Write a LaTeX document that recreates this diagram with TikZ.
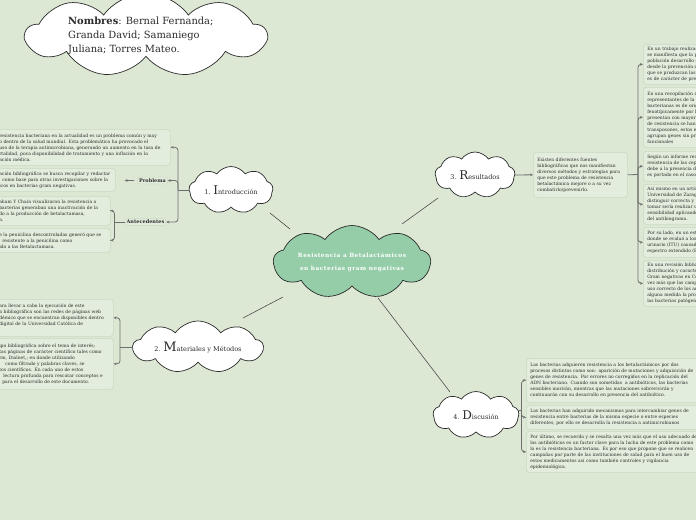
\documentclass[tikz,border=0pt]{standalone}
\usepackage{fontspec}
\setmainfont{DejaVu Serif}
\usetikzlibrary{shapes.symbols,arrows.meta,calc}
\definecolor{bg}{HTML}{DCE7D4}
\definecolor{boxfill}{HTML}{E3EDDD}
\definecolor{boxline}{HTML}{C9DAC1}
\definecolor{ink}{HTML}{2B2B2B}
\definecolor{connc}{HTML}{6E6E6E}
\definecolor{central}{HTML}{95CDA9}
\newcommand{\tsz}{\fontsize{4.5}{6}\selectfont}
\begin{document}
\begin{tikzpicture}[x=1pt,y=-1pt,
  tbox/.style={draw=boxline, fill=boxfill, rounded corners=3pt, line width=0.6pt, anchor=north west, inner xsep=4pt, inner ysep=0pt, align=left, font=\tsz, text=ink},
  lbl/.style={draw=boxline, fill=boxfill, rounded corners=2pt, line width=0.6pt, inner sep=1.5pt, font=\fontsize{5}{6}\selectfont\bfseries, text=ink},
  cl/.style={cloud, cloud puffs=9, cloud puff arc=110, cloud ignores aspect, draw=ink, line width=0.7pt, fill=white, inner sep=0pt, text=ink, font=\fontsize{6.5}{7}\selectfont},
  link/.style={draw=connc!70!black, line width=0.6pt},
  brk/.style={draw=connc, line width=0.8pt, rounded corners=3pt},
  tip/.style={-{Stealth[length=3pt,width=2.6pt]}}
]
\fill[bg] (0,0) rectangle (696,520);
\useasboundingbox (0,0) rectangle (696,520);
\clip (0,0) rectangle (696,520);

% clouds
\node[cl, minimum width=240pt, minimum height=84pt] (names) at (146,35) {};
\node[anchor=north west, align=left, inner sep=0pt, font=\fontsize{9.9}{14}\selectfont, text=ink] (namestxt) at (68,17)
  {\textbf{Nombres}: Bernal Fernanda;\\Granda David; Samaniego\\Juliana; Torres Mateo.};

\node[cl, fill=central, minimum width=157pt, minimum height=73pt, font=\fontsize{5.8}{13}\selectfont\bfseries\addfontfeature{LetterSpace=9}, text=white, align=center] (cen) at (352,262)
  {Resistencia a Betalactámicos\\en bacterias gram negativas};

\node[cl, minimum width=84pt, minimum height=47pt] (intro) at (231,190) {1. {\fontsize{12}{12}\selectfont I}ntroducción};
\node[cl, minimum width=130pt, minimum height=52pt] (mat) at (198,347) {2. {\fontsize{13}{13}\selectfont M}ateriales y Métodos};
\node[cl, minimum width=80pt, minimum height=46pt] (res) at (475,175) {3. {\fontsize{12}{12}\selectfont R}esultados};
\node[cl, minimum width=86pt, minimum height=47pt] (disc) at (476,415) {4. {\fontsize{12}{12}\selectfont D}iscusión};

% links to center
\draw[link] ($(intro)+(39,23)$) -- ($(cen)+(-62,-33)$);
\draw[link] ($(mat)+(45,-29)$) -- ($(cen)+(-69,35)$);
\draw[link] ($(res)+(-37,23)$) -- ($(cen)+(50,-38)$);
\draw[link] ($(disc)+(-26,-23)$) -- ($(cen)+(26,36)$);

% ---------- Introduccion branch ----------
\node[tbox, minimum width=175pt, minimum height=36pt, text width=167pt] (A) at (-5,129)
 {resistencia bacteriana en la actualidad es un problema común y may\\
  o dentro de la salud mundial. Esta problemática ha provocado el\\
  uso de la terapia antimicrobiana, generando un aumento en la tasa de\\
  rtalidad, poca disponibilidad de tratamiento y una inflación en la\\
  ación médica.};
\node[tbox, minimum width=117pt, minimum height=23pt, text width=112pt] (B) at (-5,168)
 {ación bibliográfica se busca recopilar y redactar\\
  \hspace{3pt}como base para otras investigaciones sobre la\\
  icos en bacterias gram negativas.};
\node[lbl] (prob) at (152.5,180.5) {Problema};
\node[lbl] (ant) at (145.5,222) {Antecedentes};
\node[tbox, minimum width=115pt, minimum height=29pt, text width=107pt] (C) at (-5,196)
 {aham Y Chain visualizaron la resistencia a\\
  bacterias generaban una inactivación de la\\
  do a la producción de betalactamasa,\\
  a.};
\node[tbox, minimum width=115pt, minimum height=24pt, text width=107pt] (D) at (-5,228)
 {e la penicilina descontroladas generó que se\\
  \hspace{3pt}resistente a la penicilina como\\
  ido a las Betalactamasa.};

\coordinate (ib) at (178,190);
\draw[brk] ($(intro)+(-41,0)$) -- (ib);
\draw[brk,tip] (ib) |- (A.east);
\draw[brk,tip] (ib) |- (prob.east);
\draw[brk,tip] (ib) |- (ant.east);
\draw[brk,tip,shorten >=9pt,shorten <=3pt] (prob.west) -- (prob.west -| B.east);
\coordinate (ab) at (114.5,222);
\draw[brk] (ant.west) -- (ab);
\draw[brk,tip] (ab) |- (C.east);
\draw[brk,tip] (ab) |- (D.east);

% ---------- Materiales branch ----------
\node[tbox, minimum width=118pt, minimum height=37pt, text width=110pt] (E) at (-5,299)
 {ara llevar a cabo la ejecución de este\\
  n bibliográfica son las redes de páginas web\\
  démico que se encuentran disponibles dentro\\
  digital de la Universidad Católica de\\
  \mbox{}};
\node[tbox, minimum width=118pt, minimum height=51pt, text width=110pt] (F) at (-5,338)
 {ipo bibliográfica sobre el tema de interés;\\
  tas páginas de carácter científico tales como\\
  rm, Dialnet,; en donde utilizando\\
  \hspace{6pt}como filtrado y palabras claves, se\\
  tos científicos. En cada uno de estos\\
  \hspace{4pt}lectura profunda para rescatar conceptos e\\
  \hspace{3pt}para el desarrollo de este documento.};
\coordinate (mb) at (120,347);
\draw[brk] ($(mat)+(-65,0)$) -- (mb);
\draw[brk,tip] (mb) |- (E.east);
\draw[brk,tip] (mb) |- (F.east);

% ---------- Resultados branch ----------
\node[tbox, minimum width=94pt, minimum height=45pt, text width=86pt] (G) at (533,152)
 {Existen diferentes fuentes\\
  bibliográficas que nos manifiestan\\
  diversos métodos y estrategias para\\
  que este problema de resistencia\\
  betalactámica mejore o a su vez\\
  combatirlo/prevenirlo.};
\draw[brk,tip] ($(res)+(40,0)$) -- (G.west);
\node[tbox, minimum height=40pt, text width=150pt] (R1) at (643,44)
 {En un trabajo realizado por\\
  se manifiesta que la población\\
  población desarrollo de\\
  desde la prevención de\\
  que se produzcan las infecciones\\
  es de carácter de prevención};
\node[tbox, minimum height=60pt, text width=150pt] (R2) at (643,87)
 {En una recopilación de\\
  representantes de la familia\\
  bacterianas es de origen\\
  fenotípicamente por la\\
  presentan con mayor frecuencia\\
  de resistencia se han descrito\\
  transposones, estos elementos\\
  agrupan genes sin promotores\\
  funcionales};
\node[tbox, minimum height=30pt, text width=150pt] (R3) at (643,151)
 {Según un informe realizado\\
  resistencia de las cepas\\
  debe a la presencia de\\
  es portado en el caso de};
\node[tbox, minimum height=40pt, text width=150pt] (R4) at (643,184)
 {Así mismo en un artículo\\
  Universidad de Zaragoza\\
  distinguir correcta y\\
  tomar sería realizar un\\
  sensibilidad aplicando\\
  del antibiograma.};
\node[tbox, minimum height=30pt, text width=150pt] (R5) at (643,227)
 {Por su lado, en un estudio\\
  donde se evaluó a los\\
  urinario (ITU) causada\\
  espectro extendido (BLEE)};
\node[tbox, minimum height=46pt, text width=150pt] (R6) at (643,260)
 {En una revisión bibliográfica\\
  distribución y características\\
  Gram negativas en Colombia\\
  vez más que las campañas\\
  uso correcto de los antibióticos\\
  alguna medida la propagación\\
  las bacterias patógenas};
\coordinate (rb) at (638,174.5);
\draw[brk] (G.east) -- (rb);
\foreach \r in {R1,R2,R3,R4,R5,R6} \draw[brk,tip] (rb) |- (\r.west);

% ---------- Discusion branch ----------
\node[tbox, minimum height=44pt, text width=190pt] (D1) at (526,358)
 {Las bacterias adquieren resistencia a los betalactámicos por dos\\
  procesos distintos como son: aparición de mutaciones y adquisición de\\
  genes de resistencia. Por errores no corregidos en la replicación del\\
  ADN bacteriano. Cuando son sometidas \ a antibióticos, las bacterias\\
  sensibles morirán, mientras que las mutaciones sobrevivirán y\\
  continuarán con su desarrollo en presencia del antibiótico.};
\node[tbox, minimum height=24pt, text width=190pt] (D2) at (526,405)
 {Las bacterias han adquirido mecanismos para intercambiar genes de\\
  resistencia entre bacterias de la misma especie o entre especies\\
  diferentes, por ello se desarrolla la resistencia a antimicrobianos};
\node[tbox, minimum height=41pt, text width=190pt] (D3) at (526,431)
 {Por último, se recuerda y se resalta una vez más que el uso adecuado de\\
  los antibióticos es un factor clave para la lucha de este problema como\\
  lo es la resistencia bacteriana. Es por eso que propone que se realicen\\
  campañas por parte de las instituciones de salud para el buen uso de\\
  estos medicamentos así como también controles y vigilancia\\
  epidemiológica.};
\coordinate (db) at (521.5,410);
\draw[brk] ($(disc)+(43,-5)$) -- (db);
\draw[brk,tip] (db) |- (D1.west);
\draw[brk,tip] (db) |- (D2.west);
\draw[brk,tip] (db) |- (D3.west);
\end{tikzpicture}
\end{document}
